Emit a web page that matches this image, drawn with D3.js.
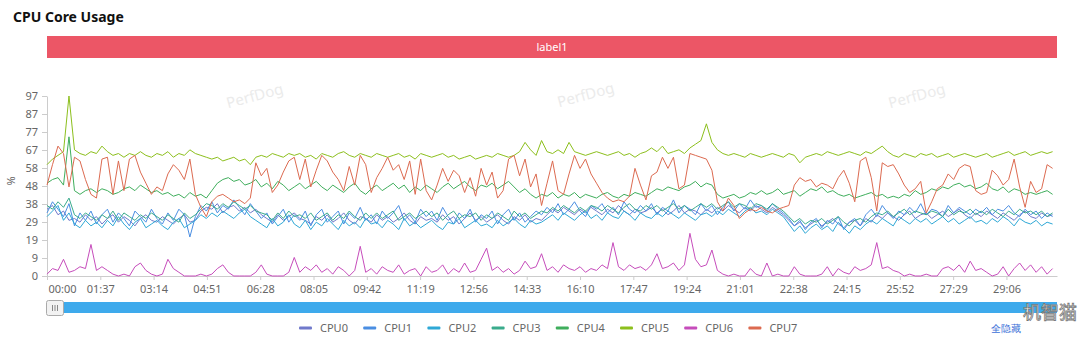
<!DOCTYPE html>
<html><head><meta charset="utf-8">
<script src="https://cdn.jsdelivr.net/npm/d3@7"></script>
<style>body{margin:0;background:#fff;} svg{display:block;font-family:"Noto Sans","Open Sans",sans-serif;}</style>
</head><body><svg id="c" width="1080" height="342"></svg>
<script>
const seriesNames = ["CPU0","CPU1","CPU2","CPU3","CPU4","CPU5","CPU6","CPU7"];
const sampleStep = 10; // seconds between samples
const tickStep = 97;   // seconds between x ticks
const duration = 1838; // seconds shown
const xTickLabels = ["00:00","01:37","03:14","04:51","06:28","08:05","09:42","11:19","12:56","14:33","16:10","17:47","19:24","21:01","22:38","24:15","25:52","27:29","29:06"];
const yTickValues = [0,9.7,19.4,29.1,38.8,48.5,58.2,67.9,77.6,87.3,97];
const yTickLabels = ["0","9","19","29","38","48","58","67","77","87","97"];

const cpu0 = [36,38,33,35,30,31,29,33,30,32, 28,31,33,29,32,30,27,31,33,30, 29,32,30,28,31,33,29,30,35,37, 36,39,34,37,38,35,37,34,36,33,
 31,29,33,30,32,34,31,30,28,32, 30,33,29,31,34,30,28,32,31,29, 33,30,32,29,31,34,30,28,32,30, 31,29,33,30,32,28,31,34,30,32,
 29,31,33,30,28,32,30,33,29,31, 30,33,36,34,37,35,33,36,34,37, 35,33,36,34,38,35,33,36,34,35, 37,34,36,33,35,38,34,36,35,33,
 36,34,37,35,38,36,34,37,35,38, 36,34,37,35,33,30,27,29,26,28, 30,27,29,31,28,26,29,30,27,31, 29,33,31,34,32,30,33,35,31,33,
 34,31,33,35,32,34,36,33,31,34, 32,35,33,31,34,32,30,33,35,32, 31,34,32,33];
const cpu1 = [34,40,36,32,39,27,34,30,35,28, 33,36,29,34,31,27,35,32,29,36, 31,28,34,30,36,33,21,32,38,35, 40,34,38,36,41,37,33,39,35,31,
 34,28,32,36,29,33,30,35,27,33, 36,29,32,35,28,34,31,37,30,33, 28,35,31,34,38,30,33,29,36,32, 35,30,37,32,28,34,31,36,29,33,
 31,35,28,33,36,30,34,29,32,35, 33,37,34,39,33,36,40,35,32,38, 36,39,34,37,33,40,36,34,38,35, 39,33,37,35,41,34,38,36,33,39,
 35,38,33,37,40,35,39,36,41,37, 38,35,39,36,34,31,27,30,25,29, 31,26,30,28,32,25,29,31,27,33, 36,32,38,34,31,35,33,37,34,39,
 33,36,35,32,38,34,37,35,33,36, 34,37,33,36,35,38,34,32,36,33, 35,31,34,32];
const cpu2 = [32,35,38,30,34,28,26,30,27,29, 26,30,27,32,28,25,29,31,26,28, 30,27,25,29,31,26,28,30,33,31, 34,32,35,33,31,34,36,32,30,28,
 26,31,27,29,33,28,26,30,25,29, 27,31,28,25,30,27,29,26,31,28, 29,26,30,28,25,31,27,29,26,28, 30,27,25,29,28,31,26,28,30,27,
 28,26,30,27,29,31,28,26,30,28, 29,31,33,30,34,32,30,33,35,31, 33,30,34,32,31,35,33,30,34,32, 31,34,32,35,33,31,34,32,30,33,
 34,32,35,33,36,34,32,35,37,34, 35,33,36,34,32,28,24,27,23,26, 28,25,27,24,29,26,23,27,25,28, 30,28,31,29,27,32,30,28,31,29,
 31,28,30,32,29,31,28,30,32,29, 30,28,31,29,32,30,27,31,29,28, 30,27,29,28];
const cpu3 = [38,36,40,37,42,33,31,34,32,30, 33,31,35,30,34,32,30,33,31,34, 32,30,33,31,29,34,31,33,36,39, 38,36,39,37,40,38,36,38,35,34,
 33,30,34,31,35,32,33,31,34,30, 32,34,30,33,31,35,32,30,34,31, 34,31,33,35,30,32,34,31,33,35, 32,34,30,33,35,31,33,32,34,30,
 33,31,34,32,30,35,32,34,31,33, 35,34,37,35,38,36,34,37,35,38, 37,35,38,36,34,37,39,36,35,38, 36,38,35,37,39,36,38,35,37,39,
 37,39,36,38,40,37,39,38,36,39, 38,36,39,37,35,32,29,31,28,30, 29,31,28,30,32,29,27,30,31,29, 32,34,33,35,32,34,36,33,35,34,
 33,35,34,32,36,33,35,34,36,33, 35,33,36,34,32,35,33,36,34,35, 33,35,32,34];
const cpu4 = [50,52,53,49,75,46,44,46,47,45, 47,46,44,45,47,48,46,49,47,45, 46,44,45,43,44,42,45,43,44,42, 46,50,52,53,51,52,49,50,52,48,
 50,47,51,49,46,48,50,47,49,51, 48,46,49,47,45,48,50,46,44,47, 49,46,48,50,47,49,45,48,46,49, 47,45,48,50,47,49,51,48,46,49,
 48,50,47,49,51,48,45,47,44,42, 44,43,45,42,44,43,45,42,44,43, 42,44,45,43,42,44,43,45,44,43, 45,47,46,48,47,46,48,49,51,48,
 50,49,44,42,43,44,42,43,45,44, 46,44,45,47,44,45,46,43,45,47, 46,48,45,46,44,43,44,42,43,44, 45,43,44,42,43,42,44,43,46,44,
 45,47,46,48,47,49,50,48,49,47, 48,50,47,46,48,45,47,46,44,45, 44,45,46,44];
const cpu5 = [60,63,65,67,97,68,66,65,67,66, 70,67,65,66,64,66,65,67,65,64, 66,65,67,64,66,65,68,66,65,64, 63,64,62,63,64,62,63,60,64,65,
 64,66,65,64,66,65,66,64,65,63, 66,65,64,66,67,65,64,66,65,64, 66,65,64,65,66,64,65,63,66,65, 64,65,66,64,65,63,64,65,63,64,
 65,64,66,65,64,65,67,72,68,65, 73,67,66,68,66,72,67,66,65,66, 67,66,65,66,67,65,66,64,66,67, 69,67,70,66,67,68,66,69,71,73,
 82,72,68,66,65,66,65,64,66,65, 64,65,66,65,64,66,65,61,64,65, 66,65,67,66,65,66,67,66,65,67, 66,68,70,67,65,64,66,65,64,66,
 65,66,64,65,66,64,65,66,65,64, 65,66,64,65,66,67,65,66,67,65, 66,67,66,67];
const cpu6 = [1,4,3,9,2,3,5,4,17,3, 5,3,1,0,1,0,5,7,3,1, 0,1,9,4,2,0,0,0,1,0, 1,4,6,2,0,0,0,0,2,6,
 1,0,0,0,2,10,2,5,3,6, 2,4,1,5,3,0,3,16,2,4, 1,5,3,2,6,1,3,4,0,5, 2,3,6,1,4,2,7,2,3,9,
 15,3,5,2,4,1,3,8,4,5, 12,3,5,2,6,4,3,5,2,4, 3,6,4,18,5,3,6,4,5,3, 6,12,4,5,7,3,6,23,9,5,
 6,14,3,1,0,1,0,0,4,1, 0,7,0,1,0,0,5,1,0,0, 0,1,5,0,4,2,1,5,3,4, 6,18,4,5,3,2,0,1,0,0,
 1,0,0,4,5,3,6,2,8,3, 4,2,0,1,5,0,4,7,3,6, 2,5,1,4];
const cpu7 = [49,60,70,66,48,64,62,52,44,42, 63,64,44,62,46,63,65,56,50,44, 48,46,55,60,57,52,63,44,37,32, 40,43,44,42,40,41,39,42,61,54,
 58,45,49,56,62,64,52,63,48,57, 65,62,56,52,46,59,49,65,60,45, 53,58,64,57,60,52,62,44,63,46, 41,49,58,51,57,54,45,53,43,58,
 49,56,42,46,63,65,54,63,48,55, 38,50,62,46,44,55,65,58,63,55, 50,45,42,40,41,40,43,58,49,41, 54,56,64,58,64,47,49,66,65,64,
 63,57,40,35,42,38,31,34,36,35, 37,35,34,36,37,38,49,53,51,52, 48,50,49,47,53,57,50,40,62,64, 53,35,61,59,60,55,49,45,47,51,
 34,40,47,49,55,52,58,60,59,46, 44,45,57,54,49,52,63,48,37,51, 45,47,60,58];
const seriesValues = [cpu0,cpu1,cpu2,cpu3,cpu4,cpu5,cpu6,cpu7];
const seriesColors = ["#7079cb","#4a8ee2","#2ea8d6","#3aab8c","#3fae5c","#8cbf1c","#c64cbb","#dc6a50"];

const svg = d3.select("#c");
const L = 47, R = 1057, T = 96, B = 276;
const x = d3.scaleLinear().domain([0, duration]).range([L, R]);
const y = d3.scaleLinear().domain([0, 97]).range([B, T]);

// title
svg.append("text").attr("x",13).attr("y",22).attr("font-size",14).attr("font-weight","bold").attr("fill","#111").text("CPU Core Usage");
// label bar
svg.append("rect").attr("x",L).attr("y",36).attr("width",R-L).attr("height",22).attr("fill","#ec5666");
svg.append("text").attr("x",(L+R)/2).attr("y",51).attr("text-anchor","middle").attr("font-size",11).attr("fill","#fff").text("label1");

// watermarks
[[255,97],[586,96],[917,97]].forEach(p=>{
  svg.append("text").attr("transform",`translate(${p[0]},${p[1]}) rotate(-15)`).attr("text-anchor","middle").attr("dominant-baseline","middle")
    .attr("font-size",15).attr("fill","#ebebeb").text("PerfDog");
});

// axes
const xAxis = d3.axisBottom(x).tickValues(xTickLabels.map((d,i)=>i*tickStep)).tickFormat((d,i)=>xTickLabels[i]).tickSize(4).tickPadding(5).tickSizeOuter(0);
const gx = svg.append("g").attr("transform",`translate(0,${B})`).call(xAxis);
gx.select(".domain").attr("stroke","#ccc");
gx.selectAll(".tick line").attr("stroke","#ccc");
gx.selectAll(".tick text").attr("fill","#666").attr("font-size",11).attr("font-family","Noto Sans, sans-serif");
gx.selectAll(".tick text").filter((d,i)=>i===0).attr("text-anchor","start").attr("dx",1);

const yAxis = d3.axisLeft(y).tickValues(yTickValues).tickFormat((d,i)=>yTickLabels[i]).tickSize(5).tickPadding(4).tickSizeOuter(0);
const gy = svg.append("g").attr("transform",`translate(${L},0)`).call(yAxis);
gy.select(".domain").attr("stroke","#ccc");
gy.selectAll(".tick line").attr("stroke","#ccc");
gy.selectAll(".tick text").attr("fill","#666").attr("font-size",11).attr("font-family","Noto Sans, sans-serif");
svg.append("text").attr("transform","translate(15,181) rotate(-90)").attr("text-anchor","middle").attr("font-size",11).attr("fill","#666").text("%");

// lines
const line = d3.line().x((d,i)=>x(i*sampleStep)).y(d=>y(d));
seriesValues.forEach((vals,k)=>{
  svg.append("path").datum(vals).attr("d",line).attr("fill","none").attr("stroke",seriesColors[k]).attr("stroke-width",1).attr("stroke-linejoin","round");
});

// data zoom bar
svg.append("rect").attr("x",L).attr("y",302).attr("width",R-L).attr("height",11).attr("fill","#3eaaec");
svg.append("rect").attr("x",46.5).attr("y",300.5).attr("width",17).attr("height",15).attr("rx",2).attr("fill","#f2f2f2").attr("stroke","#aaa");
[52.5,55,57.5].forEach(xx=>svg.append("line").attr("x1",xx).attr("x2",xx).attr("y1",305).attr("y2",311).attr("stroke","#888").attr("stroke-width",1));

// legend
const lg = svg.append("g");
seriesNames.forEach((n,k)=>{
  const lx = 299 + k*64.2;
  lg.append("rect").attr("x",lx).attr("y",326.5).attr("width",13).attr("height",3).attr("rx",1).attr("fill",seriesColors[k]);
  lg.append("text").attr("x",lx+21).attr("y",332).attr("font-size",11).attr("fill","#666").text(n);
});
svg.append("text").attr("x",991).attr("y",332).attr("font-size",10).attr("fill","#3b6fd8").text("全隐藏");
svg.append("text").attr("x",1023).attr("y",319).attr("font-size",18).attr("font-family","Noto Sans CJK SC").attr("fill","#fff").attr("stroke","#777").attr("stroke-width",0.8).text("机智猫");
</script></body></html>
